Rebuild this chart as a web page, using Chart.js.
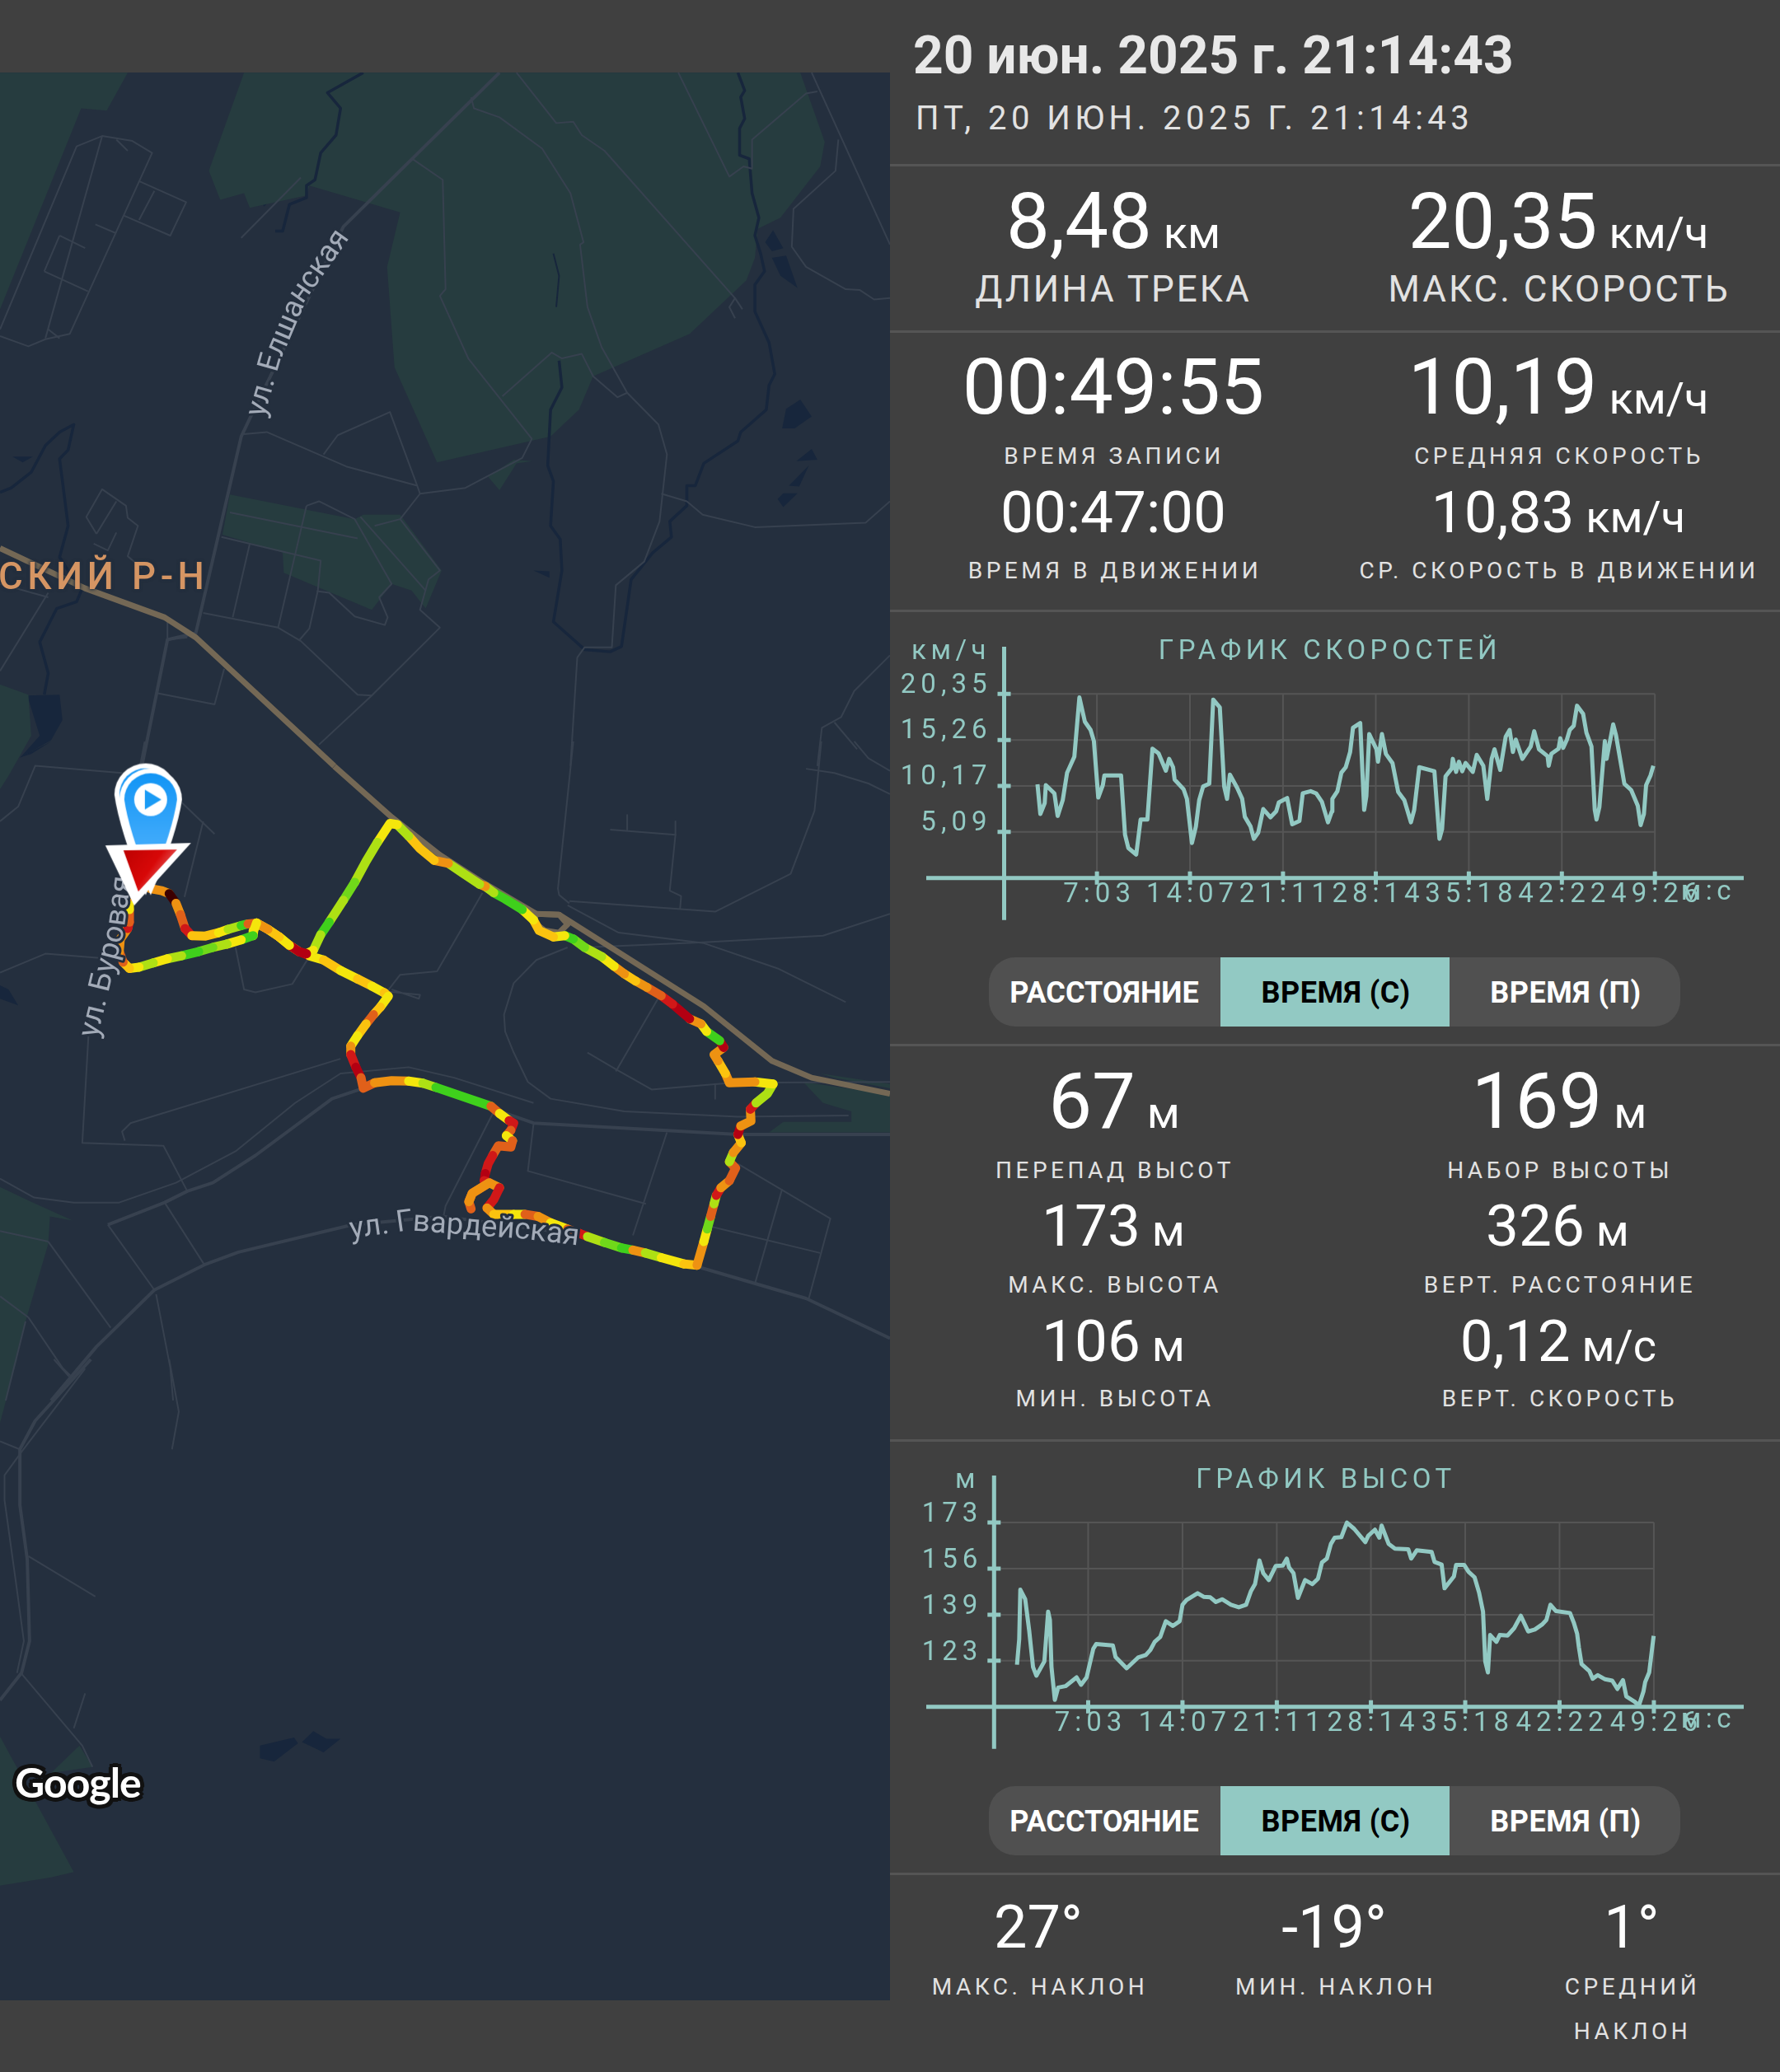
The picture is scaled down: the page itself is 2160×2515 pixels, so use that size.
<!DOCTYPE html>
<html>
<head>
<meta charset="utf-8">
<script src="https://cdn.jsdelivr.net/npm/chart.js@4"></script>
<style>
  html, body { margin: 0; padding: 0; background: #404040; }
  #page { position: relative; width: 2160px; height: 2515px; overflow: hidden; background: #404040; font-family: Roboto, sans-serif; }
  #page canvas { position: absolute; }
  .t { position: absolute; line-height: 1; white-space: nowrap; }
  .rule { position: absolute; left: 1080px; width: 1080px; height: 3px; background: #555; }
  .switch { position: absolute; left: 1200px; width: 839px; height: 84px; border-radius: 32px; background: #505050; overflow: hidden; }
  .switch i { position: absolute; left: 281px; width: 278px; height: 84px; background: #92c9c3; }
</style>
</head>
<body>
<div id="page">
  <canvas id="map" style="left:0;top:88px"></canvas>
  <canvas id="speed" style="left:1090px;top:760px"></canvas>
  <canvas id="height" style="left:1090px;top:1770px"></canvas>
</div>
<script>
// speed profile, seconds / km/h
const speedTimes = [152,165,185,190,229,244,267,287,320,343,368,394,409,429,450,457,533,551,566,602,622,653,676,704,737,752,770,777,818,833,856,874,889,907,935,953,983,1003,1016,1029,1062,1085,1097,1123,1138,1158,1181,1214,1240,1252,1290,1313,1346,1361,1397,1422,1448,1476,1494,1496,1519,1537,1557,1577,1590,1623,1641,1651,1664,1697,1704,1722,1740,1770,1796,1824,1854,1869,1892,1961,1984,1996,2012,2040,2045,2060,2073,2088,2103,2136,2154,2184,2202,2222,2235,2261,2286,2304,2319,2332,2362,2400,2416,2438,2477,2482,2494,2527,2535,2548,2565,2578,2596,2611,2639,2654,2677,2692,2700,2713,2738,2746,2776,2789,2827,2858,2888,2901,2916,2926,2946,2959]
const speedValues = [10.36,7.07,8.29,10.27,9.36,6.86,8.6,11.64,13.41,19.96,17.28,16.37,15.15,8.9,10.27,11.34,11.34,4.79,3.32,2.59,6.46,6.46,14.3,13.78,11.86,13.17,12.25,10.88,9.81,8.75,3.87,5.7,8.6,10.12,10.42,19.72,18.87,10.12,8.75,11.43,9.97,8.75,6.77,5.7,4.33,5,7.62,6.71,7.38,8.35,8.84,5.94,6.31,9.36,9.6,9.36,8.44,6.16,7.38,8.75,9.6,11.64,12.25,13.93,16.61,17.13,7.53,9.05,15.91,14.23,12.86,15.91,13.72,12.71,9.51,8.6,6.16,7.53,12.25,11.8,4.33,5.39,11.25,12.1,13.17,11.73,12.86,11.8,12.71,11.73,13.62,12.41,8.75,13.17,14.23,11.95,15.61,16.37,13.93,15.3,13.17,14.54,16.22,14.23,13.47,12.41,13.72,14.3,15.45,14.39,15.3,16.37,16.82,19.05,18.14,16.06,14.54,7.53,6.46,7.83,15.15,13.17,16.98,15.76,10.42,9.72,7.99,5.85,7.07,10.27,11.34,12.41]
const speedTicks = [5.09,10.17,15.26,20.35]
const speedTickLabels = ['5,09','10,17','15,26','20,35']

// height profile, seconds / metres
const heightTimes = [103,113,118,140,158,175,190,226,243,251,258,273,288,321,371,391,416,446,459,534,546,596,647,682,702,722,747,772,804,834,847,865,915,942,972,997,1025,1065,1100,1133,1155,1173,1193,1210,1235,1266,1298,1316,1326,1346,1366,1398,1431,1456,1474,1496,1514,1531,1561,1586,1619,1669,1682,1712,1732,1742,1774,1802,1862,1875,1900,1967,1980,2012,2025,2067,2077,2113,2133,2160,2180,2198,2208,2220,2230,2258,2273,2308,2338,2368,2401,2431,2463,2483,2501,2526,2589,2606,2621,2629,2641,2676,2691,2714,2747,2779,2802,2827,2842,2877,2899,2919,2927,2945,2965]
const heightValues = [121.3,130.6,148.6,145.1,133.6,120.5,117.3,122.5,140.6,137.6,120.5,108.5,113,113.5,116.7,114,116.7,127.1,128.8,128.3,124.1,120,123.9,124.8,126.6,129.6,131.4,137.1,135.4,137.1,143.1,144.8,147.3,146,145.8,144.1,145.1,143.1,142.2,143.1,148.1,150.6,159.2,154.6,152.1,157.2,157.4,159.9,156.7,154.6,145.6,152.1,150.6,152.6,158.5,159.9,165.2,167.5,167.7,173,170.7,165.9,168.2,170.4,167.5,171.9,165.2,163.5,163.3,159.9,162.9,162.3,158.7,157.7,149.1,153.4,157.6,157.6,155.1,153.1,147.6,140.6,122.5,118.5,132.1,129.6,132.1,131.9,134.6,139.1,133.4,134.1,135.9,137.6,143.1,140.8,140.1,136.6,132.6,127.6,121.5,119,116.2,117.5,116,115.5,112.5,115.7,109.8,108,106.5,111.5,115,118.5,131.8]
const heightTicks = [122.75,139.5,156.25,173]
const heightTickLabels = ['123','139','156','173']

// shared time axis
const timeTicks = [423,847,1271,1694,2118,2542,2966]
const timeTickLabels = ['7:03','14:07','21:11','28:14','35:18','42:22','49:26']

// the track on the map: sheet coordinates and speed band of each stretch
const trackX = [265,285,298,310,318,326,338,362,385,402,425,437,452,472,492,510,527,545,570,600,630,655,677,684,670,658,645,630,618,618,627,636,640,660,690,720,745,768,820,865,880,897,905,900,892,903,900,878,868,860,855,853,862,832,826,830,826,832,862,880,870,858,870,905,925,948,970,1000,1020,1035,1065,1095,1115,1137,1165,1205,1228,1240,1246,1252,1258,1262,1270,1285,1296,1285,1292,1306,1300,1305,1323,1322,1332,1352,1362,1330,1285,1278,1265,1258,1275,1268,1245,1235,1215,1185,1165,1140,1120,1100,1082,1060,1030,1010,995,975,950,940,920,890,870,855,845,815,790,765,740,720,700,687,665,645,625,605,580,565,552,540,527,510,492,472,452,447,446,425,400,375,350,320,295,270,245,228,217,210,212,225,228,228,228,232]
const trackY = [350,355,362,385,412,445,462,463,455,447,438,434,432,447,465,485,500,510,520,545,565,582,598,606,632,650,672,700,725,745,775,800,825,812,807,808,813,823,847,868,885,902,908,925,938,950,965,962,985,1005,1028,1045,1050,1075,1095,1112,1095,1075,1050,1062,1090,1110,1125,1125,1125,1130,1145,1160,1170,1178,1192,1205,1210,1217,1228,1243,1246,1190,1160,1130,1100,1080,1062,1045,1015,1000,978,955,935,915,903,875,860,838,815,810,812,790,760,745,728,712,690,672,660,625,605,585,570,553,535,512,490,470,462,465,450,425,400,375,360,345,340,313,290,283,255,225,198,195,240,285,335,378,430,460,497,505,500,485,465,447,432,450,462,472,482,490,500,510,517,527,537,540,525,500,470,445,430,400,370,320]
const trackBand = [4,4,0,4,3,2,5,5,6,7,9,3,6,5,4,6,1,6,5,6,5,6,5,6,5,3,5,6,4,2,1,3,3,4,4,6,7,9,9,3,6,2,2,3,6,3,3,3,2,2,1,2,3,3,3,3,4,4,4,2,2,4,5,6,3,4,6,3,2,7,8,9,4,7,6,5,4,6,8,3,7,2,4,3,3,7,4,5,1,4,4,2,7,7,6,4,4,5,4,4,1,9,6,4,1,2,3,4,5,4,6,7,8,9,6,5,5,6,9,9,7,4,7,7,4,5,5,7,6,6,7,7,8,7,9,7,6,1,1,6,5,4,6,6,9,6,7,8,9,7,6,7,6,5,3,4,4,2,3,6,4,4]
const bandColours = ['#3d0000','#b30012','#d01818','#e0601a','#ee9212','#fbc30f','#f4e60c','#aee014','#70d81a','#3fd01c']

// map features traced per sheet, flat x,y lists
const northParks = [
  [0,15,225,15,188,100,143,95,0,545],
  [430,15,1410,15,1453,170,1445,225,1375,340,1335,365,1330,430,1315,480,1215,600,1045,695,1020,770,970,830,770,888,695,675,682,450,705,328,545,268,540,290,440,318,430,285,388,300,368,235],
  [860,920,880,950,910,890,938,885,905,882],
  [405,960,625,1015,640,1005,705,1005,778,1130,750,1215,725,1175,690,1160,655,1218,500,1135,498,1090,392,1050],
  [0,1385,50,1408,55,1500,15,1590,0,1620]
]
const midParks = [
  [0,1060,55,1095,128,1140,88,1130,85,1195,45,1380,10,1568,0,1568],
  [1415,810,1568,840,1568,930,1355,930,1380,905,1500,905,1500,880,1450,860],
  [1445,790,1568,815,1568,825,1470,800]
]
const southParks = [
  [0,0,30,0,0,140],
  [0,830,130,1128,90,1140,0,1158],
  [90,910,140,850,163,897]
]
const northLakes = [
  [715,88,735,85,738,145,727,140],[525,175,535,170,547,208,530,212],[456,290,490,258,493,280,465,315],
  [775,140,805,152,785,150],[813,155,830,155,857,212,835,190],[868,270,885,265,910,300,915,328,880,295],
  [950,372,962,366,978,400,970,418],[973,540,995,536,995,622,980,570],[980,662,1018,652,1022,670,983,695],
  [1348,395,1362,368,1380,408,1360,415],[1360,430,1385,425,1405,497,1375,470],[1378,812,1385,768,1410,747,1430,785,1400,812],
  [1403,885,1430,858,1440,882],[1390,940,1425,895,1408,942],[1370,970,1380,957,1405,957,1380,988],
  [940,1130,968,1132,968,1146],[22,875,58,875,40,888],[48,1410,105,1408,110,1465,90,1510,35,1550,70,1500]
]
const midLakes = [[0,580,15,590,32,628,0,612],[35,38,90,0,55,30]]
const southLakes = [[458,850,518,832,525,845,483,885,458,878],[532,842,552,818,575,835,600,835,570,865]]
const northRivers = [
  [640,15,577,60,600,95,592,155,565,195,555,255,540,268,540,295,510,310,498,370,485,370],
  [1300,15,1312,55,1305,70,1312,118,1303,140,1303,200,1320,208,1325,285,1337,340,1330,380,1340,420,1347,460,1330,490,1330,550,1355,620,1365,690,1355,715,1350,770,1305,820,1300,840,1240,890,1225,940,1210,940,1210,985,1180,1020,1183,1055,1150,1090,1112,1150,1095,1300,1075,1312,1030,1307,975,1245,990,1130,987,1060,970,1030,975,930,965,895,970,770,990,720,985,660],
  [0,955,20,945,55,910,80,850,105,820,130,803,120,860,105,880,120,1030,105,1100,125,1140,145,1170,135,1200,100,1215,70,1290,85,1360,78,1408]
]
const northBrooks = [[980,540,985,470,975,420]]
const northRoads = [
  [0,590,135,180,180,157,233,168,268,195,123,600,80,612,50,628,0,605],[180,157,80,610],[205,165,225,190],[105,380,150,408],[168,355,205,375],
  [78,460,155,505],[105,380,78,460],[245,258,328,305,300,380,218,335],[272,280,245,345],[85,590,105,610],
  [425,825,470,820,610,897,735,940,740,958,705,1015,660,1030],[570,870,595,827,687,775,735,940],
  [740,958,820,945,920,878,937,835,825,655,775,515,785,500,780,255,725,207],
  [885,740,972,642,990,655,1025,645,1045,695,1088,742,1105,732,1160,803,1175,870,1162,1020,1135,1110,1085,1163,1078,1302,1030,1302,1017,1325,1005,1568],
  [830,70,835,95,880,115,955,185,1005,285,1028,395,1022,400,1035,540,1060,630,1105,732],
  [910,15,980,128,1010,125,1025,155,1065,190,1295,520,1285,540,1295,565],[1295,520,1308,545],
  [1195,15,1285,248,1310,225,1325,230,1325,165,1420,62,1440,57],[1430,15,1568,400],
  [1477,165,1472,235,1398,320,1395,405,1420,450,1490,500,1515,502,1540,523,1568,520],
  [1165,958,1210,975,1238,1005,1330,1033,1525,1023,1568,975],[1568,1320,1505,1400,1482,1458,1448,1482,1440,1568],[1470,1470,1510,1530],
  [390,1055,565,1108,560,1175,545,1260,528,1285],[405,1000,630,1058],[440,1070,410,1235],
  [540,985,562,975,625,1015,690,1160,668,1190,683,1235,678,1252,625,1233,580,1180,558,1176],[540,985,490,1258],
  [358,1225,490,1258,530,1288,630,1408,655,1410,775,1258,740,1218,755,1150,775,1130,705,1015],[635,1010,750,1175],[655,1410,562,1520],
  [395,1350,378,1430,278,1405],[170,1048,152,1010,180,948,222,985,225,1012,243,1030,225,1098,250,1125],[170,1048,205,975],[205,1045,190,1085,165,1070],
  [85,1180,0,1355],[0,1160,85,1190],[530,250,425,385],[295,1240,295,1285,330,1280]
]
const northMainRoads = [[880,15,605,360,440,790,425,830,345,1270,295,1285,250,1568]]
const northHighway = [[0,1080,150,1170,290,1235,345,1280,430,1380,589,1568]]
const midRoads = [
  [255,0,245,70],[0,190,32,155,62,58,215,75],[320,145,378,220],[358,190,325,370],[0,550,80,505,220,520],
  [158,650,145,955,288,962,330,1070],[415,490,430,590,450,597,515,577,548,505],
  [850,360,770,547,705,555,682,595,740,603,738,612,690,590],[1010,0,983,350,985,365,1003,385],[1003,380,1260,405,1393,315,1435,165,1447,0],
  [1105,175,1105,210],[1075,210,1190,222,1180,355,1200,368,1198,400],[1190,190,1190,222],
  [1000,390,1090,455,1240,480,1370,540,1490,620],[1030,490,1240,478,1450,462,1568,410],[1420,65,1470,75,1530,100,1568,125],[1505,0,1530,40,1568,70],
  [1000,490,945,520,905,575,888,650,890,690,905,740,930,810,970,850,1100,880,1300,893,1495,890],
  [1160,610,1085,785],[1035,740,1085,780,1148,828,1290,812,1568,810],[1260,815,1260,850],
  [0,1040,60,1085,130,1097,210,1097,310,1050,415,975,520,860,600,790,720,775,800,800,940,860],
  [600,755,230,908,215,928,220,950],[870,880,785,1105,780,1140],[940,910,930,1022,1138,1100],[1175,930,1115,1175],
  [190,1150,272,1305],[290,1097,360,1245],[275,1315,300,1490,305,1568],[85,1190,195,1395],[50,1370,110,1490,125,1510],[0,1165,85,1190],[0,1320,50,1370],
  [1300,1005,1463,1135,1425,1325],[1378,1065,1330,1290],[1240,1150,1445,1217],[45,1380,10,1568]
]
const midMainRoads = [
  [190,1150,290,1097,330,1070,375,1050,450,985,585,850,640,825],[860,870,940,908,1300,935,1568,935],
  [90,1568,170,1440,272,1305,360,1245,420,1215,620,1150,780,1130,1030,1175,1230,1250,1420,1325,1568,1420]
]
const midHighway = [
  [589,59,690,180,775,270,850,335,945,410,985,412,1240,630,1360,760,1430,800,1568,838],
  [945,410,985,412,1000,435,985,455,960,450,940,430,945,410]
]
const southRoads = [
  [150,20,40,200,8,255,8,310,28,490,42,620,30,690],[298,0,315,115,303,198],[95,0,122,38],[50,433,168,522],
  [38,692,145,850,163,897],[150,735,130,812],[35,198,0,180]
]
const southMainRoads = [[160,0,62,135,35,198,35,320,48,440,52,620,38,690,0,750]]

// street names run along these lines
const streetLabels = [
  { text: 'ул. Елшанская', sheet: 'yNorth', xs: [452,480,530,605], ys: [785,660,510,375] },
  { text: 'ул. Буровая', sheet: 'yMid', xs: [158,182,205,218], ys: [705,570,450,320] },
  { text: 'ул. Гвардейская', sheet: 'yMid', xs: [615,720,820,920,1015], ys: [1165,1145,1155,1165,1180] }
]

// panel text: centre x, baseline y, text, size, unit
const statValues = [
  [1351,301,'8,48',94,'км'],[1891,301,'20,35',94,'км/ч'],[1351,502,'00:49:55',95,''],[1891,502,'10,19',94,'км/ч'],
  [1351,646,'00:47:00',71,''],[1891,646,'10,83',71,'км/ч'],[1352,1369,'67',94,'м'],[1892,1369,'169',94,'м'],
  [1351,1512,'173',71,'м'],[1890,1512,'326',71,'м'],[1351,1652,'106',71,'м'],[1891,1652,'0,12',71,'м/с'],
  [1260,2365,'27°',72,''],[1619,2365,'-19°',72,''],[1980,2365,'1°',72,'']
]
const statLabels = [
  [1351,366,'ДЛИНА ТРЕКА',44],[1892,366,'МАКС. СКОРОСТЬ',44],[1352,564,'ВРЕМЯ ЗАПИСИ',28],[1892,564,'СРЕДНЯЯ СКОРОСТЬ',28],
  [1353,703,'ВРЕМЯ В ДВИЖЕНИИ',28],[1892,703,'СР. СКОРОСТЬ В ДВИЖЕНИИ',28],[1353,1431,'ПЕРЕПАД ВЫСОТ',28],[1893,1431,'НАБОР ВЫСОТЫ',28],
  [1353,1570,'МАКС. ВЫСОТА',28],[1893,1570,'ВЕРТ. РАССТОЯНИЕ',28],[1353,1708,'МИН. ВЫСОТА',28],[1893,1708,'ВЕРТ. СКОРОСТЬ',28],
  [1262,2422,'МАКС. НАКЛОН',28],[1621,2422,'МИН. НАКЛОН',28],[1981,2422,'СРЕДНИЙ',28],[1981,2476,'НАКЛОН',28]
]
const ruleRows = [200,402,741,1268,1748,2274]
const switchRows = [1162,2168]

const TEAL = '#92c9c3'
const page = document.getElementById('page')

// baseline placed text; .8415em is where Roboto's baseline sits with line-height 1
function addText(html, x, baseline, size, style, anchor) {
  const el = document.createElement('div')
  el.className = 't'
  el.innerHTML = html
  el.style.cssText = 'left:' + x + 'px;top:' + (baseline - 0.8415 * size) + 'px;font-size:' + size + 'px;' + (anchor === 'center' ? 'transform:translateX(-50%);' : anchor === 'right' ? 'transform:translateX(-100%);' : '') + style
  page.appendChild(el)
}

addText('20 июн. 2025 г. 21:14:43', 1108, 89.5, 64, 'font-weight:700;color:#e8e8e8')
addText('ПТ, 20 ИЮН. 2025 Г. 21:14:43', 1111, 158, 40, 'color:#e2e2e2;letter-spacing:5.5px')
statValues.forEach(([x, y, text, size, unit]) => {
  const tail = unit ? '<span style="font-size:54px;margin-left:14px">' + unit + '</span>' : ''
  addText(text + tail, x, y, size, 'color:#fff', 'center')
})
statLabels.forEach(([x, y, text, size]) => {
  addText(text, x, y, size, 'color:#e2e2e2;letter-spacing:' + (size > 30 ? 3 : 4.5) + 'px', 'center')
})
ruleRows.forEach(y => {
  const el = document.createElement('div')
  el.className = 'rule'
  el.style.top = (y - 1) + 'px'
  page.appendChild(el)
})
switchRows.forEach(y => {
  const bar = document.createElement('div')
  bar.className = 'switch'
  bar.style.top = y + 'px'
  bar.innerHTML = '<i></i>'
  page.appendChild(bar)
  addText('РАССТОЯНИЕ', 1340, y + 55, 36, 'font-weight:700;color:#fff', 'center')
  addText('ВРЕМЯ (С)', 1621, y + 55, 36, 'font-weight:700;color:#000;letter-spacing:.5px', 'center')
  addText('ВРЕМЯ (П)', 1900, y + 55, 36, 'font-weight:700;color:#fff;letter-spacing:.5px', 'center')
})

// chart captions
const captionStyle = 'color:' + TEAL + ';letter-spacing:5.5px'
addText('ГРАФИК СКОРОСТЕЙ', 1614, 800, 33, captionStyle, 'center')
addText('км/ч', 1202, 800, 33, captionStyle, 'right')
addText('м:с', 2106, 1092, 33, captionStyle, 'right')
addText('ГРАФИК ВЫСОТ', 1609, 1806, 33, captionStyle, 'center')
addText('м', 1189, 1806, 33, captionStyle, 'right')
addText('м:с', 2106, 2097, 33, captionStyle, 'right')

// map captions sit on top of the canvas
addText('СКИЙ Р-Н', -2, 715, 45.5, 'font-weight:500;color:#d59563;letter-spacing:5.5px;text-shadow:0 0 4px #242f3e,0 0 4px #242f3e')
addText('Google', 18, 2180, 50, 'font-family:Lato,sans-serif;font-weight:700;color:#fff;letter-spacing:-1px;text-shadow:5px 0 0 #111,-5px 0 0 #111,0 5px 0 #111,0 -5px 0 #111,4px 4px 0 #111,-4px 4px 0 #111,4px -4px 0 #111,-4px -4px 0 #111')

// grid, axes and tick marks of the two profile charts
function profileFrame(xTicks, yTicks, leftStub, bottomStub) {
  return {
    id: 'profileFrame',
    beforeDraw(chart) {
      chart.ctx.letterSpacing = '6px'
    },
    beforeDatasetsDraw(chart) {
      const { ctx, scales: { x, y } } = chart
      const right = x.getPixelForValue(xTicks[xTicks.length - 1])
      const top = y.getPixelForValue(yTicks[yTicks.length - 1])
      ctx.save()
      ctx.strokeStyle = '#555'
      ctx.lineWidth = 2
      ctx.beginPath()
      yTicks.forEach(v => {
        ctx.moveTo(x.left, y.getPixelForValue(v))
        ctx.lineTo(right, y.getPixelForValue(v))
      })
      xTicks.forEach(v => {
        ctx.moveTo(x.getPixelForValue(v), top)
        ctx.lineTo(x.getPixelForValue(v), y.bottom)
      })
      ctx.stroke()
      ctx.restore()
    },
    afterDatasetsDraw(chart) {
      const { ctx, scales: { x, y } } = chart
      ctx.save()
      ctx.strokeStyle = TEAL
      ctx.lineWidth = 5
      ctx.beginPath()
      ctx.moveTo(x.left, y.top - 2)
      ctx.lineTo(x.left, y.bottom + bottomStub)
      ctx.moveTo(x.left - leftStub, y.bottom)
      ctx.lineTo(x.right, y.bottom)
      yTicks.forEach(v => {
        ctx.moveTo(x.left - 8, y.getPixelForValue(v))
        ctx.lineTo(x.left + 8, y.getPixelForValue(v))
      })
      xTicks.forEach(v => {
        ctx.moveTo(x.getPixelForValue(v), y.bottom - 8)
        ctx.lineTo(x.getPixelForValue(v), y.bottom + 8)
      })
      ctx.stroke()
      ctx.restore()
    }
  }
}

function profileChart(id, times, values, cfg) {
  const canvas = document.getElementById(id)
  canvas.width = 1040
  canvas.height = 370
  return new Chart(canvas, {
    type: 'line',
    data: {
      datasets: [{
        data: times.map((t, i) => ({ x: t, y: values[i] })),
        borderColor: TEAL,
        borderWidth: 5,
        borderJoinStyle: 'round',
        pointRadius: 0,
        tension: 0
      }]
    },
    options: {
      responsive: false,
      animation: false,
      devicePixelRatio: 1,
      layout: { autoPadding: false, padding: { top: cfg.top, right: 14, left: 0, bottom: 0 } },
      plugins: { legend: { display: false }, tooltip: { enabled: false } },
      scales: {
        x: {
          type: 'linear',
          min: 0,
          max: cfg.xMax,
          grid: { display: false },
          border: { display: false },
          afterBuildTicks: s => { s.ticks = timeTicks.map(v => ({ value: v })) },
          afterFit: s => { s.height = 370 - cfg.bottom },
          ticks: {
            autoSkip: false,
            maxRotation: 0,
            padding: -3,
            labelOffset: 3,
            color: TEAL,
            font: { family: 'Roboto', size: 33, lineHeight: 1 },
            callback: (v, i) => timeTickLabels[i]
          }
        },
        y: {
          min: cfg.yMin,
          max: cfg.yMax,
          grid: { display: false },
          border: { display: false },
          afterBuildTicks: s => { s.ticks = cfg.ticks.map(v => ({ value: v })) },
          afterFit: s => { s.width = cfg.left },
          ticks: {
            autoSkip: false,
            padding: cfg.labelGap,
            labelOffset: cfg.labelRise,
            color: TEAL,
            font: { family: 'Roboto', size: 33, lineHeight: 1 },
            callback: (v, i) => cfg.labels[i]
          }
        }
      }
    },
    plugins: [profileFrame(timeTicks, cfg.ticks, cfg.left - 34, 51)]
  })
}

profileChart('speed', speedTimes, speedValues, {
  top: 27, bottom: 305.7, left: 128.5, xMax: 3371, yMin: 0, yMax: 25.39, ticks: speedTicks, labels: speedTickLabels, labelGap: 7, labelRise: -10
})
profileChart('height', heightTimes, heightValues, {
  top: 23, bottom: 301.7, left: 116.3, xMax: 3370, yMin: 106, yMax: 189.5, ticks: heightTicks, labels: heightTickLabels, labelGap: 6, labelRise: -9
})

// map markers
function pinPath(ctx, cx, cy, r, tipY) {
  ctx.beginPath()
  ctx.moveTo(cx, tipY)
  ctx.quadraticCurveTo(cx - r * 0.85, cy + r * 1.1, cx - r, cy)
  ctx.arc(cx, cy, r, Math.PI, 0)
  ctx.quadraticCurveTo(cx + r * 0.85, cy + r * 1.1, cx, tipY)
  ctx.closePath()
}
function startIcon() {
  const c = document.createElement('canvas')
  c.width = 100
  c.height = 175
  const ctx = c.getContext('2d')
  ;[[47, 50], [53, 56]].forEach(([cx, cy]) => {
    pinPath(ctx, cx, cy, 38, 172)
    ctx.fillStyle = '#fff'
    ctx.fill()
    const g = ctx.createLinearGradient(0, cy - 32, 0, 160)
    g.addColorStop(0, '#1295f5')
    g.addColorStop(1, '#5cb8ff')
    pinPath(ctx, cx, cy, 32, 160)
    ctx.fillStyle = g
    ctx.fill()
  })
  ctx.fillStyle = '#fff'
  ctx.beginPath()
  ctx.arc(53, 56, 20, 0, Math.PI * 2)
  ctx.fill()
  ctx.fillStyle = '#1a9bf5'
  ctx.beginPath()
  ctx.moveTo(46, 44)
  ctx.lineTo(46, 68)
  ctx.lineTo(66, 56)
  ctx.closePath()
  ctx.fill()
  return c
}
function finishIcon() {
  const c = document.createElement('canvas')
  c.width = 110
  c.height = 85
  const ctx = c.getContext('2d')
  ctx.fillStyle = '#fff'
  ctx.beginPath()
  ctx.moveTo(3, 8)
  ctx.lineTo(107, 5)
  ctx.lineTo(38, 81)
  ctx.closePath()
  ctx.fill()
  const g = ctx.createLinearGradient(25, 0, 95, 50)
  g.addColorStop(0, '#b80000')
  g.addColorStop(0.55, '#d80808')
  g.addColorStop(1, '#f0a0a0')
  ctx.fillStyle = g
  ctx.beginPath()
  ctx.moveTo(25, 14)
  ctx.lineTo(90, 13)
  ctx.lineTo(43, 64)
  ctx.closePath()
  ctx.fill()
  return c
}

function points(flat) {
  const out = []
  for (let i = 0; i < flat.length; i += 2) out.push({ x: flat[i], y: flat[i + 1] })
  return out
}
function areas(list, sheet, colour) {
  return list.map(flat => ({
    data: points(flat.concat(flat.slice(0, 2))),
    yAxisID: sheet,
    showLine: true,
    fill: 'shape',
    backgroundColor: colour,
    borderWidth: 0,
    pointRadius: 0,
    order: 6
  }))
}
function lines(list, sheet, colour, width, order) {
  return list.map(flat => ({
    data: points(flat),
    yAxisID: sheet,
    showLine: true,
    borderColor: colour,
    borderWidth: width,
    borderJoinStyle: 'round',
    pointRadius: 0,
    order: order
  }))
}

const PARK = '#263c3f'
const WATER = '#17263c'
const ROAD = '#37414f'

const mapDatasets = [
  ...areas(northParks, 'yNorth', PARK), ...areas(midParks, 'yMid', PARK), ...areas(southParks, 'ySouth', PARK),
  ...areas(northLakes, 'yNorth', WATER), ...areas(midLakes, 'yMid', WATER), ...areas(southLakes, 'ySouth', WATER),
  ...lines(northRivers, 'yNorth', WATER, 3.5, 5), ...lines(northBrooks, 'yNorth', WATER, 2, 5),
  ...lines(northRoads, 'yNorth', ROAD, 2, 4), ...lines(midRoads, 'yMid', ROAD, 2, 4), ...lines(southRoads, 'ySouth', ROAD, 2, 4),
  ...lines(northMainRoads, 'yNorth', ROAD, 4, 3), ...lines(midMainRoads, 'yMid', ROAD, 4, 3), ...lines(southMainRoads, 'ySouth', ROAD, 4, 3),
  ...lines(northHighway, 'yNorth', '#746855', 7, 2), ...lines(midHighway, 'yMid', '#746855', 7, 2),
  {
    label: 'track',
    data: trackX.map((x, i) => ({ x: x, y: trackY[i] })),
    yAxisID: 'yMid',
    showLine: true,
    borderColor: bandColours[5],
    borderWidth: 11,
    borderCapStyle: 'round',
    borderJoinStyle: 'round',
    pointRadius: 0,
    segment: { borderColor: c => bandColours[trackBand[c.p0DataIndex]] },
    order: 1
  },
  { data: [{ x: 261, y: 200 }], yAxisID: 'yMid', pointStyle: startIcon(), pointRadius: 50, order: 0 },
  { data: [{ x: 261, y: 315 }], yAxisID: 'yMid', pointStyle: finishIcon(), pointRadius: 50, order: -1 }
]

// street names follow their road, letter by letter, above the track but under the markers
function drawStreetLabel(chart, label) {
  const ctx = chart.ctx
  const xScale = chart.scales.x
  const yScale = chart.scales[label.sheet]
  const px = label.xs.map(v => xScale.getPixelForValue(v))
  const py = label.ys.map(v => yScale.getPixelForValue(v))
  const lens = [0]
  for (let i = 1; i < px.length; i++) lens.push(lens[i - 1] + Math.hypot(px[i] - px[i - 1], py[i] - py[i - 1]))
  const total = lens[lens.length - 1]
  const width = ctx.measureText(label.text).width
  let pos = (total - width) / 2
  for (const ch of label.text) {
    const w = ctx.measureText(ch).width
    const mid = pos + w / 2
    let k = 1
    while (k < lens.length - 1 && lens[k] < mid) k++
    const f = (mid - lens[k - 1]) / (lens[k] - lens[k - 1])
    ctx.save()
    ctx.translate(px[k - 1] + (px[k] - px[k - 1]) * f, py[k - 1] + (py[k] - py[k - 1]) * f)
    ctx.rotate(Math.atan2(py[k] - py[k - 1], px[k] - px[k - 1]))
    ctx.strokeText(ch, 0, 0)
    ctx.fillText(ch, 0, 0)
    ctx.restore()
    pos += w
  }
}
const streetNames = {
  id: 'streetNames',
  afterDatasetDraw(chart, args) {
    if (chart.data.datasets[args.index].label !== 'track') return
    const ctx = chart.ctx
    ctx.save()
    ctx.font = '36.5px Roboto'
    ctx.textAlign = 'center'
    ctx.textBaseline = 'middle'
    ctx.fillStyle = '#a3abb8'
    ctx.strokeStyle = '#242f3e'
    ctx.lineWidth = 6
    ctx.lineJoin = 'round'
    streetLabels.forEach(l => drawStreetLabel(chart, l))
    ctx.restore()
  }
}

const mapCanvas = document.getElementById('map')
mapCanvas.width = 1080
mapCanvas.height = 2340
new Chart(mapCanvas, {
  type: 'scatter',
  data: { datasets: mapDatasets },
  options: {
    responsive: false,
    animation: false,
    devicePixelRatio: 1,
    layout: { autoPadding: false, padding: 0 },
    plugins: {
      legend: { display: false },
      tooltip: { enabled: false },
      filler: { propagate: false }
    },
    scales: {
      x: { display: false, min: 0, max: 1568 },
      yNorth: { display: false, reverse: true, min: 14.76, max: 4332 },
      yMid: { display: false, reverse: true, min: -1591.5, max: 2995 },
      ySouth: { display: false, reverse: true, min: -2832, max: 1410.5 }
    }
  },
  plugins: [{
    id: 'mapGround',
    beforeDraw(chart) {
      chart.ctx.fillStyle = '#242f3e'
      chart.ctx.fillRect(0, 0, chart.width, chart.height)
    }
  }, streetNames]
})
</script>
</body>
</html>
